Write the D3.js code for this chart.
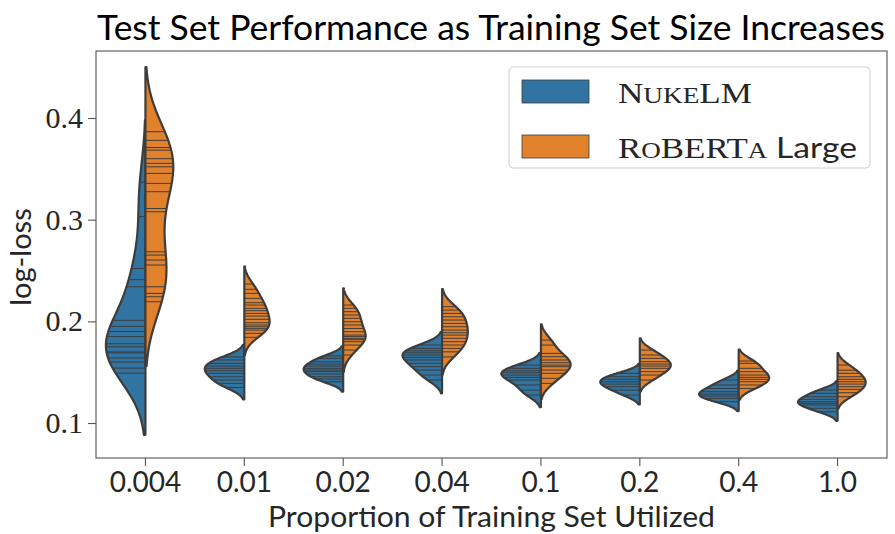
<!DOCTYPE html>
<html>
<head>
<meta charset="utf-8">
<script src="https://cdn.jsdelivr.net/npm/d3@7"></script>
<style>
  body { margin: 0; background: #ffffff; }
  svg { display: block; }
</style>
</head>
<body>
<svg id="chart" width="895" height="534"></svg>
<script>
// Training-set proportions (x categories)
const categories = ["0.004", "0.01", "0.02", "0.04", "0.1", "0.2", "0.4", "1.0"];
const seriesNames = ["NukeLM", "RoBERTa Large"];

// Per-run test log-loss, NukeLM
const nukelmLoss = [
  [0.337, 0.303, 0.252, 0.241, 0.234, 0.201, 0.195, 0.190, 0.185, 0.178, 0.175, 0.170, 0.169, 0.164, 0.160, 0.154, 0.149],
  [0.165, 0.162, 0.1587, 0.156, 0.1538, 0.1514, 0.1489, 0.1455, 0.1423, 0.139, 0.135],
  [0.166, 0.1636, 0.1603, 0.158, 0.156, 0.1538, 0.1521, 0.1505, 0.1482, 0.1455, 0.1433, 0.1406],
  [0.1767, 0.1734, 0.171, 0.1691, 0.1669, 0.1646, 0.162, 0.1587, 0.1554, 0.1521, 0.1472, 0.1423],
  [0.157, 0.1538, 0.1514, 0.1495, 0.1472, 0.1449, 0.1423, 0.1374, 0.1324, 0.1275],
  [0.1489, 0.1455, 0.143, 0.1406, 0.1383, 0.1357, 0.1324, 0.1275],
  [0.1423, 0.1374, 0.134, 0.1308, 0.1285, 0.1266, 0.1243, 0.121],
  [0.1324, 0.1292, 0.1259, 0.1233, 0.121, 0.1194, 0.1177, 0.1145, 0.111]
];

// Per-run test log-loss, RoBERTa Large
const robertaLoss = [
  [0.3865, 0.378, 0.371, 0.3684, 0.360, 0.3554, 0.352, 0.3455, 0.3357, 0.3275, 0.311, 0.3078, 0.2684, 0.2652, 0.2603, 0.2554, 0.234, 0.2275, 0.2242, 0.2193],
  [0.2367, 0.2315, 0.2275, 0.2226, 0.2183, 0.216, 0.2128, 0.2105, 0.2078, 0.2052, 0.202, 0.1986, 0.1964, 0.1947, 0.1931, 0.1914, 0.1882, 0.1843],
  [0.216, 0.2128, 0.2095, 0.2062, 0.203, 0.1996, 0.1964, 0.193, 0.1898, 0.1865, 0.185, 0.1833, 0.182, 0.180, 0.1767, 0.1718, 0.1669],
  [0.2144, 0.2111, 0.2078, 0.2045, 0.2013, 0.198, 0.1947, 0.1914, 0.1888, 0.1865, 0.1833, 0.180, 0.1767, 0.1734, 0.170, 0.165],
  [0.1816, 0.1767, 0.1685, 0.1652, 0.162, 0.1593, 0.157, 0.1554, 0.1521, 0.1489, 0.144, 0.139],
  [0.1718, 0.1669, 0.1636, 0.1603, 0.158, 0.156, 0.1538, 0.1505, 0.1472, 0.1423],
  [0.161, 0.1587, 0.1538, 0.1505, 0.1472, 0.1449, 0.143, 0.1406, 0.1374, 0.134],
  [0.157, 0.152, 0.1489, 0.1455, 0.143, 0.1406, 0.1383, 0.1357, 0.1331, 0.1298, 0.1259]
];

const yTickValues = [0.1, 0.2, 0.3, 0.4];
const seriesColors = ["#3274a1", "#e1812c"];

const edgeGray = "#3d3d3d";
const svg = d3.select("#chart");

const plot = { left: 96, right: 887, top: 51, bottom: 458 };

const x = d3.scaleBand().domain(categories).range([plot.left, plot.right]).padding(0);
const y = d3.scaleLinear().domain([0.0656, 0.4659]).range([plot.bottom, plot.top]);

// Gaussian KDE, Scott's rule bandwidth, support cut at 2 bandwidths
function kde(values) {
  const n = values.length;
  const sd = d3.deviation(values);
  const bw = sd * Math.pow(n, -1 / 5);
  const lo = d3.min(values) - 2 * bw, hi = d3.max(values) + 2 * bw;
  const grid = 100;
  const norm = 1 / (n * bw * Math.sqrt(2 * Math.PI));
  const f = v => norm * d3.sum(values, xi => Math.exp(-0.5 * ((v - xi) / bw) ** 2));
  const support = d3.range(grid).map(i => lo + (hi - lo) * i / (grid - 1));
  return { support, dens: support.map(f), f };
}

const halfWidth = x.bandwidth() * 0.4;
const groups = categories.map((c, i) => {
  const halves = [nukelmLoss[i], robertaLoss[i]].map(kde);
  const maxD = d3.max(halves, h => d3.max(h.dens));
  return { cat: c, cx: x(c) + x.bandwidth() / 2, halves, maxD, data: [nukelmLoss[i], robertaLoss[i]] };
});

// Axes frame
svg.append("rect")
  .attr("x", plot.left).attr("y", plot.top)
  .attr("width", plot.right - plot.left).attr("height", plot.bottom - plot.top)
  .attr("fill", "none").attr("stroke", "#555").attr("stroke-width", 1.1);

// Violins: left half NukeLM, right half RoBERTa, each group scaled to its own peak
const violinLayer = svg.append("g");
groups.forEach(g => {
  g.halves.forEach((h, j) => {
    const sign = j === 0 ? -1 : 1;
    const pts = h.support.map((s, k) => [g.cx + sign * h.dens[k] / g.maxD * halfWidth, y(s)]);
    pts.push([g.cx, y(h.support[h.support.length - 1])]);
    pts.push([g.cx, y(h.support[0])]);
    violinLayer.append("path")
      .attr("d", d3.line()(pts) + "Z")
      .attr("fill", seriesColors[j])
      .attr("stroke", edgeGray)
      .attr("stroke-width", 2.2)
      .attr("stroke-linejoin", "round");
    // one stick per run
    g.data[j].forEach(v => {
      const w = h.f(v) / g.maxD * halfWidth;
      violinLayer.append("line")
        .attr("x1", g.cx).attr("x2", g.cx + sign * w)
        .attr("y1", y(v)).attr("y2", y(v))
        .attr("stroke", edgeGray).attr("stroke-width", 1);
    });
  });
});

// Y axis
const yAxis = svg.append("g").attr("transform", `translate(${plot.left},0)`)
  .call(d3.axisLeft(y).tickValues(yTickValues).tickFormat(d3.format(".1f")).tickSize(8).tickPadding(5));
yAxis.select(".domain").remove();
yAxis.selectAll(".tick line").attr("stroke", "#555").attr("stroke-width", 1.1);
yAxis.selectAll(".tick text")
  .attr("font-family", "'Liberation Serif', 'DejaVu Serif', serif")
  .attr("font-size", 30).attr("fill", "#262626");

// X axis
const xAxis = svg.append("g").attr("transform", `translate(0,${plot.bottom})`)
  .call(d3.axisBottom(x).tickSize(8).tickPadding(6));
xAxis.select(".domain").remove();
xAxis.selectAll(".tick line").attr("stroke", "#555").attr("stroke-width", 1.1);
xAxis.selectAll(".tick text")
  .attr("font-family", "Lato, 'Open Sans', sans-serif")
  .attr("font-size", 28).attr("fill", "#262626");

// Axis titles and chart title
svg.append("text")
  .attr("x", (plot.left + plot.right) / 2).attr("y", 527)
  .attr("text-anchor", "middle")
  .attr("font-family", "Lato, 'Open Sans', sans-serif").attr("font-size", 29)
  .attr("fill", "#262626")
  .attr("textLength", 447).attr("lengthAdjust", "spacingAndGlyphs")
  .text("Proportion of Training Set Utilized");

svg.append("text")
  .attr("transform", "translate(31,257) rotate(-90)")
  .attr("text-anchor", "middle")
  .attr("font-family", "Lato, 'Open Sans', sans-serif").attr("font-size", 29)
  .attr("fill", "#262626")
  .text("log-loss");

svg.append("text")
  .attr("x", 97).attr("y", 40)
  .attr("font-family", "Lato, 'Open Sans', sans-serif").attr("font-size", 35)
  .attr("fill", "#000")
  .attr("textLength", 788).attr("lengthAdjust", "spacingAndGlyphs")
  .text("Test Set Performance as Training Set Size Increases");

// Legend
const legend = svg.append("g");
legend.append("rect")
  .attr("x", 509).attr("y", 67).attr("width", 361).attr("height", 101)
  .attr("rx", 4).attr("fill", "#fff").attr("fill-opacity", 0.85)
  .attr("stroke", "#d0d0d0").attr("stroke-width", 1);

// small-caps labels built from full-size and reduced-size runs
const legendRows = [
  { parts: [["N", 29], ["UKE", 22.5], ["LM", 29]], sans: "", width: 134 },
  { parts: [["R", 29], ["O", 22.5], ["BERT", 29], ["A", 22.5]], sans: " Large", width: 239 }
];
legendRows.forEach((row, i) => {
  const top = 80 + i * 55;
  legend.append("rect")
    .attr("x", 522).attr("y", top).attr("width", 67).attr("height", 23)
    .attr("fill", seriesColors[i]).attr("stroke", edgeGray).attr("stroke-width", 0.8);
  const t = legend.append("text")
    .attr("x", 618).attr("y", top + 23)
    .attr("font-family", "'Liberation Serif', 'DejaVu Serif', serif")
    .attr("fill", "#262626")
    .attr("textLength", row.width).attr("lengthAdjust", "spacingAndGlyphs");
  row.parts.forEach(([s, fs]) => t.append("tspan").attr("font-size", fs).text(s));
  if (row.sans) {
    t.append("tspan").attr("font-family", "Lato, 'Open Sans', sans-serif")
      .attr("font-size", 28).text(row.sans);
  }
});
</script>
</body>
</html>
